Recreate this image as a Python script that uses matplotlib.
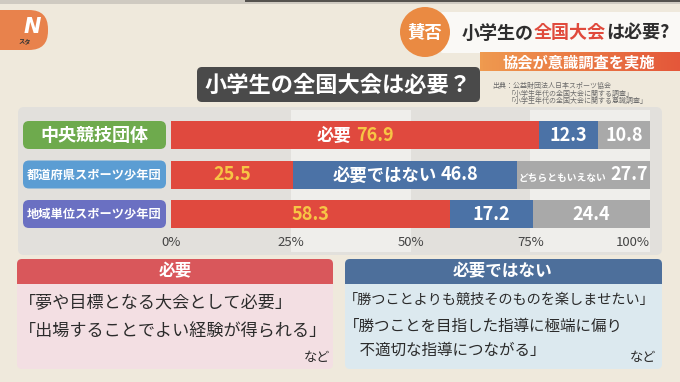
import numpy as np
import matplotlib
matplotlib.use("Agg")
import matplotlib.pyplot as plt
from matplotlib.patches import FancyBboxPatch, Rectangle, Circle
from matplotlib.transforms import offset_copy

plt.rcParams['font.family'] = ['Noto Sans CJK JP', 'DejaVu Sans']

# data
groups = ["中央競技団体", "都道府県スポーツ少年団", "地域単位スポーツ少年団"]
need = [76.9, 25.5, 58.3]          # 必要
not_need = [12.3, 46.8, 17.2]      # 必要ではない
neither = [10.8, 27.7, 24.4]       # どちらともいえない
prefixes = [["必要", "", ""],
            ["", "必要ではない", "どちらともいえない"],
            ["", "", ""]]
ticks = [0, 25, 50, 75, 100]
tick_labels = ["0%", "25%", "50%", "75%", "100%"]
title = "小学生の全国大会は必要？"
source = ["出典：公益財団法人日本スポーツ協会",
          "「小学生年代の全国大会に関する調査」",
          "「小学生年代の全国大会に関する意識調査」"]
need_reasons = ["「夢や目標となる大会として必要」", "「出場することでよい経験が得られる」"]
not_need_reasons = ["「勝つことよりも競技そのものを楽しませたい」",
                    "「勝つことを目指した指導に極端に偏り",
                    "　不適切な指導につながる」"]

BG = "#efe9dc"
RED = "#e0493e"
BLUE = "#4b72a6"
GRAY = "#a9a9a9"
YELLOW = "#f7c545"
label_colors = ["#6eaa4d", "#5b9dd3", "#6a70c2"]

W, H = 680, 382
fig = plt.figure(figsize=(W / 100, H / 100), dpi=100, facecolor=BG)
bg = fig.add_axes([0, 0, 1, 1])
bg.set_xlim(0, W)
bg.set_ylim(H, 0)
bg.axis("off")

def box(x, y, w, h, color, r=4, z=1, **kw):
    p = FancyBboxPatch((x + r, y + r), w - 2 * r, h - 2 * r,
                       boxstyle=f"round,pad={r}", fc=color, ec="none", zorder=z, **kw)
    bg.add_patch(p)
    return p

# top strip
bg.add_patch(Rectangle((0, 0), W, 4, fc="#cfcac1", ec="none"))
bg.add_patch(Rectangle((245, 0), 435, 2, fc="#55524e", ec="none"))

# logo
box(-30, 10, 78, 40, "#e8824c", r=19)
bg.text(32, 27, "N", color="white", fontsize=15, weight="bold", style="italic",
        ha="center", va="center", family="DejaVu Sans")
bg.text(25, 42, "スタ", color="#333333", fontsize=4.5, weight="bold", ha="center", va="center")

# header top-right
box(440, 12, 250, 41, "#faf9f6", r=3)
grad = np.linspace(0, 1, 64).reshape(1, -1)
cmap = matplotlib.colors.LinearSegmentedColormap.from_list("o", ["#ef9a4f", "#e4573a"])
bg.imshow(grad, extent=(480, 680, 71, 52), cmap=cmap, aspect="auto", zorder=2)
bg.set_xlim(0, W)
bg.set_ylim(H, 0)
bg.text(579, 62, "協会が意識調査を実施", color="white", fontsize=11, weight="bold",
        ha="center", va="center", zorder=3)
bg.add_patch(Circle((425, 32), 25, fc="#ea8a42", ec="none", zorder=3))
bg.text(425, 33, "賛否", color="white", fontsize=12.5, weight="bold", ha="center", va="center", zorder=4)
hx = 462
for s, c in [("小学生の", "#2e2e2e"), ("全国大会", "#e04a3c"), ("は必要?", "#2e2e2e")]:
    t = bg.text(hx, 33, s, color=c, fontsize=13, weight="bold", ha="left", va="center", zorder=4)
    fig.canvas.draw()
    hx += t.get_window_extent().width

# title box
box(197, 67, 283, 35, "#4a4a4a", r=5)
bg.text(338, 85, title, color="white", fontsize=16, weight="bold", ha="center", va="center")
for i, s in enumerate(source):
    bg.text(492 if i == 0 else 508, 86 + i * 7.5, s, color="#6a6a6a", fontsize=5, ha="left", va="center")

# panel
box(18, 107, 644, 148, "#e2e0dc", r=6, z=0.5)

ROW0, STEP, BAR_PX = 135, 39.5, 28
AX_TOP, AX_BOT, AX_L, AX_R = 110, 252, 171, 650
ax = fig.add_axes([AX_L / W, 1 - AX_BOT / H, (AX_R - AX_L) / W, (AX_BOT - AX_TOP) / H])
ax.set_facecolor("none")
ax.set_xlim(0, 100)
ax.set_ylim(2 + (AX_BOT - (ROW0 + 2 * STEP)) / STEP, -(ROW0 - AX_TOP) / STEP)
ax.axis("off")
for a, b in zip(ticks[1::2], ticks[2::2]):
    ax.axvspan(a, b, color="#efeeeb", lw=0, zorder=0)

y = np.arange(len(groups))
h = BAR_PX / STEP
segs = [need, not_need, neither]
cols = [RED, BLUE, GRAY]
left = np.zeros(len(groups))
for vals, c in zip(segs, cols):
    ax.barh(y, vals, left=left, height=h, color=c, lw=0, zorder=2)
    left = left + np.array(vals)

renderer = fig.canvas.get_renderer()

def label(xc, yc, parts):
    texts, widths = [], []
    for s, color, size in parts:
        if not s:
            continue
        t = ax.text(0, 0, s, fontsize=size, color=color, weight="bold", ha="left",
                    va="baseline", zorder=3)
        widths.append(t.get_window_extent(renderer).width)
        texts.append(t)
    gap = 4
    x0 = -(sum(widths) + gap * (len(widths) - 1)) / 2
    for t, w in zip(texts, widths):
        t.set_position((xc, yc))
        t.set_transform(offset_copy(ax.transData, fig, x=x0, y=-6, units="dots"))
        x0 += w + gap

for i in range(len(groups)):
    start = 0
    for k, (vals, c) in enumerate(zip(segs, cols)):
        v = vals[i]
        num_col = YELLOW if k == 0 else "white"
        pre = prefixes[i][k]
        psize = 7 if k == 2 and pre else 12.5
        label(start + v / 2, y[i], [(pre, "white", psize), (f"{v:.1f}", num_col, 13)])
        start += v

tick_y = 2 + (243 - (ROW0 + 2 * STEP)) / STEP
for tk, tl in zip(ticks, tick_labels):
    ax.text(tk, tick_y, tl, ha="right" if tk == 100 else "center", va="center",
            fontsize=9.5, color="#444444", zorder=3)

# row labels
for i, (g, c) in enumerate(zip(groups, label_colors)):
    yc = ROW0 + i * STEP
    box(23, yc - BAR_PX / 2, 143, BAR_PX, c, r=6, z=2)
    bg.text(94.5, yc + 0.5, g, color="white", fontsize=13 if i == 0 else 8.8, weight="bold",
            ha="center", va="center", zorder=3)

# bottom boxes
box(17, 259, 316, 110, "#f3dfe3", r=5)
box(17, 259, 316, 25, "#d9575b", r=5)
bg.add_patch(Rectangle((17, 272), 316, 12, fc="#d9575b", ec="none", zorder=1))
bg.text(175, 271.5, "必要", color="white", fontsize=12, weight="bold", ha="center", va="center", zorder=3)
for j, s in enumerate(need_reasons):
    bg.text(19, 303 + j * 28.5, s, color="#2b2b2b", fontsize=12.3, ha="left", va="center", zorder=3)
bg.text(330, 358, "など", color="#2b2b2b", fontsize=9.5, ha="right", va="center", zorder=3)

box(345, 259, 317, 110, "#dce9ef", r=5)
box(345, 259, 317, 25, "#4d6f9b", r=5)
bg.add_patch(Rectangle((345, 272), 317, 12, fc="#4d6f9b", ec="none", zorder=1))
bg.text(503, 271.5, "必要ではない", color="white", fontsize=12, weight="bold", ha="center", va="center", zorder=3)
for j, (s, fs) in enumerate(zip(not_need_reasons, [10.2, 11.2, 11.2])):
    bg.text(344, 300 + j * 26 - (2 if j == 2 else 0), s, color="#2b2b2b", fontsize=fs,
            ha="left", va="center", zorder=3)
bg.text(656, 358, "など", color="#2b2b2b", fontsize=9.5, ha="right", va="center", zorder=3)

fig.savefig("out.png", dpi=100, facecolor=BG)
